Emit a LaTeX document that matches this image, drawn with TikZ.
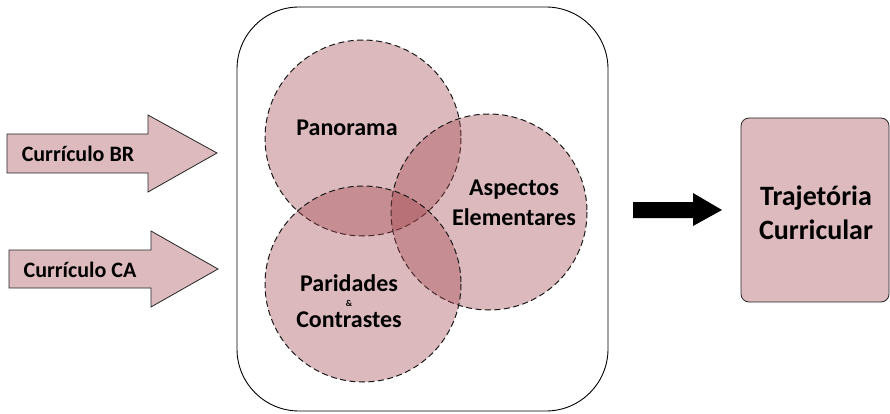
\documentclass[tikz,border=0pt]{standalone}
\usepackage{fontspec}
\setmainfont{Carlito}
\definecolor{pinkfill}{RGB}{221,186,189}
\definecolor{venn}{RGB}{160,66,74}
\begin{document}
\begin{tikzpicture}[x=1pt,y=-1pt,
  lbl/.style={font=\bfseries\fontsize{24}{30}\selectfont, text=black, align=center, inner sep=0pt},
  arrlbl/.style={font=\bfseries\fontsize{22}{26}\selectfont, text=black, inner sep=0pt},
  vcirc/.style={draw=black!90, dash pattern=on 6pt off 3.5pt, line width=1pt, fill=venn, fill opacity=0.37, draw opacity=1},
  blockarrow/.style={draw=black!85, line width=0.8pt, fill=pinkfill}]
\useasboundingbox (0,0) rectangle (890,414);
% input arrows
\draw[blockarrow] (7,134) -- (148,134) -- (148,115) -- (217,153) -- (148,192) -- (148,173) -- (7,173) -- cycle;
\node[arrlbl] (br) at (78,154) {Currículo BR};
\draw[blockarrow] (9,250) -- (151,250) -- (151,231) -- (218,269) -- (151,307) -- (151,288) -- (9,288) -- cycle;
\node[arrlbl] (ca) at (80,270) {Currículo CA};
% container
\draw[black, line width=0.9pt, rounded corners=62pt] (237,7) rectangle (608,411);
\coordinate (cont) at (422,209);
% venn circles
\draw[vcirc] (363,138) circle (98);
\draw[vcirc] (489,212) circle (98);
\draw[vcirc] (363,284) circle (98);
\node[lbl] (pan) at (347,128) {Panorama};
\node[lbl] (asp) at (514,203) {Aspectos\\Elementares};
\node[lbl] (par) at (349,283) {Paridades};
\node[font=\bfseries\fontsize{9}{10}\selectfont, inner sep=0pt] (amp) at (349,303) {\&};
\node[lbl] (con) at (349,320) {Contrastes};
% black arrow
\fill[black] (633,202) -- (693,202) -- (693,193) -- (722,210) -- (693,226) -- (693,218) -- (633,218) -- cycle;
% output box
\node[draw=black!85, line width=0.8pt, fill=pinkfill, rounded corners=8pt, minimum width=148pt, minimum height=184pt, inner sep=0pt] (traj) at (815,210) {};
\node[lbl, font=\bfseries\fontsize{28}{34}\selectfont] (trajt) at (816,213) {Trajetória\\Curricular};
\end{tikzpicture}
\end{document}
